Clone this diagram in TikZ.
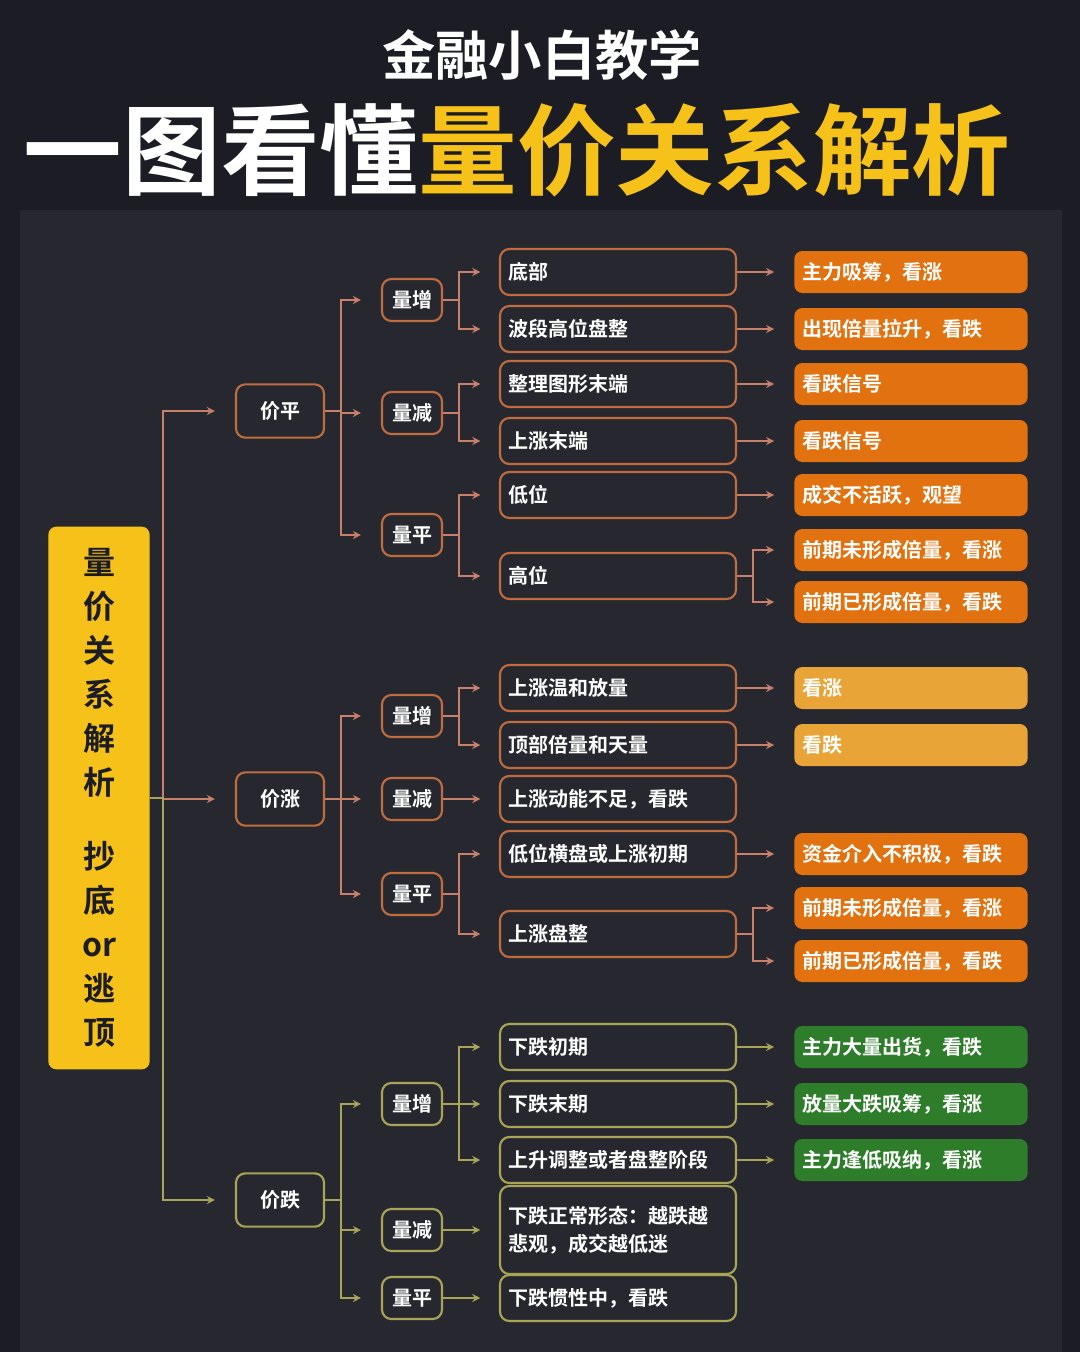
\documentclass[tikz,border=0pt]{standalone}
\usepackage{fontspec}
\setmainfont{Noto Sans CJK SC}[BoldFont={Noto Sans CJK SC Bold}]
\usetikzlibrary{arrows.meta,positioning}
\definecolor{bgdark}{HTML}{1B1C24}
\definecolor{panel}{HTML}{27282F}
\definecolor{gold}{HTML}{F6C21A}
\definecolor{rust}{HTML}{BE6C40}
\definecolor{rustln}{HTML}{C8806A}
\definecolor{khaki}{HTML}{A9A458}
\definecolor{resor}{HTML}{E2720F}
\definecolor{resyl}{HTML}{E9A437}
\definecolor{resgr}{HTML}{2E7D2A}
\begin{document}
\begin{tikzpicture}[x=0.75pt,y=-0.75pt,
    every node/.style={font=\bfseries},
    box/.style={draw=rust, line width=1.6pt, rounded corners=7pt, text=white, font=\bfseries\fontsize{15}{18}\selectfont},
    lvlone/.style={box, minimum width=66pt, minimum height=40pt},
    lvltwo/.style={box, minimum width=45pt, minimum height=31.5pt},
    leaf/.style={box, minimum width=177pt, minimum height=34.5pt, text width=165pt, align=left},
    res/.style={fill=resor, rounded corners=6pt, text=white, minimum width=175pt, minimum height=31.5pt, text width=163pt, align=left, font=\bfseries\fontsize{15}{18}\selectfont},
    conn/.style={draw=rustln, line width=1.3pt, -{Stealth[length=6pt,width=6pt]}},
    khk/.style={draw=khaki}]
  % background
  \fill[bgdark] (0,0) rectangle (1080,1352);
  \fill[panel] (20,210) rectangle (1062,1352);
  % title
  \node[text=white, font=\bfseries\fontsize{40}{44}\selectfont] (sub) at (542,55) {金融小白教学};
  \node[font=\bfseries\fontsize{74}{80}\selectfont, inner sep=0pt] (title) at (517,150)
    {\textcolor{white}{一图看懂}\textcolor{gold}{量价关系解析}};
  % root
  \node[fill=gold, rounded corners=6pt, minimum width=76pt, minimum height=407pt, text=bgdark,
        align=center, font=\bfseries\fontsize{24}{33}\selectfont] (qj) at (99,798)
    {量\\价\\关\\系\\解\\析\\[22pt]抄\\底\\or\\逃\\顶};

  % level one
  \node[lvlone] (pp) at (280,411) {价平};
  \node[lvlone] (pz) at (280,799) {价涨};
  \node[lvlone, khk] (pd) at (280,1200) {价跌};
  \foreach \n in {pp,pz}
    \draw[conn] (qj.east) -- ++(13,0) |- ([xshift=-15pt]\n.west);
  \draw[conn, khk] (qj.east) -- ++(13,0) |- ([xshift=-15pt]pd.west);

  % 价平
  \node[lvltwo] (pp_zz) at (412,300) {量增};
  \node[lvltwo] (pp_zj) at (412,413) {量减};
  \node[lvltwo] (pp_zp) at (412,535) {量平};
  \foreach \n in {pp_zz,pp_zj,pp_zp}
    \draw[conn] (pp.east) -- ++(16,0) |- ([xshift=-15pt]\n.west);
  \node[leaf] (pp_1) at (618,272) {底部};
  \node[leaf] (pp_2) at (618,329) {波段高位盘整};
  \node[leaf] (pp_3) at (618,384) {整理图形末端};
  \node[leaf] (pp_4) at (618,441) {上涨末端};
  \node[leaf] (pp_5) at (618,495) {低位};
  \node[leaf] (pp_6) at (618,576) {高位};
  \foreach \a/\b in {pp_zz/pp_1,pp_zz/pp_2,pp_zj/pp_3,pp_zj/pp_4,pp_zp/pp_5,pp_zp/pp_6}
    \draw[conn] (\a.east) -- ++(16,0) |- ([xshift=-14pt]\b.west);
  \node[res] (pp_r1) at (911,272) {主力吸筹，看涨};
  \node[res] (pp_r2) at (911,329) {出现倍量拉升，看跌};
  \node[res] (pp_r3) at (911,384) {看跌信号};
  \node[res] (pp_r4) at (911,441) {看跌信号};
  \node[res] (pp_r5) at (911,495) {成交不活跃，观望};
  \node[res] (pp_r6) at (911,550) {前期未形成倍量，看涨};
  \node[res] (pp_r7) at (911,602) {前期已形成倍量，看跌};
  \foreach \i in {1,...,5}
    \draw[conn] (pp_\i.east) -- ([xshift=-15pt]pp_r\i.west);
  \foreach \i in {6,7}
    \draw[conn] (pp_6.east) -- ++(16,0) |- ([xshift=-15pt]pp_r\i.west);

  % 价涨
  \node[lvltwo] (pz_zz) at (412,716) {量增};
  \node[lvltwo] (pz_zj) at (412,799) {量减};
  \node[lvltwo] (pz_zp) at (412,894) {量平};
  \foreach \n in {pz_zz,pz_zj,pz_zp}
    \draw[conn] (pz.east) -- ++(16,0) |- ([xshift=-15pt]\n.west);
  \node[leaf] (pz_1) at (618,688) {上涨温和放量};
  \node[leaf] (pz_2) at (618,745) {顶部倍量和天量};
  \node[leaf] (pz_3) at (618,799) {上涨动能不足，看跌};
  \node[leaf] (pz_4) at (618,854) {低位横盘或上涨初期};
  \node[leaf] (pz_5) at (618,934) {上涨盘整};
  \foreach \a/\b in {pz_zz/pz_1,pz_zz/pz_2,pz_zj/pz_3,pz_zp/pz_4,pz_zp/pz_5}
    \draw[conn] (\a.east) -- ++(16,0) |- ([xshift=-14pt]\b.west);
  \node[res, fill=resyl] (pz_r1) at (911,688) {看涨};
  \node[res, fill=resyl] (pz_r2) at (911,745) {看跌};
  \node[res] (pz_r4) at (911,854) {资金介入不积极，看跌};
  \node[res] (pz_r5) at (911,908) {前期未形成倍量，看涨};
  \node[res] (pz_r6) at (911,961) {前期已形成倍量，看跌};
  \foreach \i in {1,2,4}
    \draw[conn] (pz_\i.east) -- ([xshift=-15pt]pz_r\i.west);
  \foreach \i in {5,6}
    \draw[conn] (pz_5.east) -- ++(16,0) |- ([xshift=-15pt]pz_r\i.west);

  % 价跌
  \node[lvltwo, khk] (pd_zz) at (412,1104) {量增};
  \node[lvltwo, khk] (pd_zj) at (412,1230) {量减};
  \node[lvltwo, khk] (pd_zp) at (412,1298) {量平};
  \foreach \n in {pd_zz,pd_zj,pd_zp}
    \draw[conn, khk] (pd.east) -- ++(16,0) |- ([xshift=-15pt]\n.west);
  \node[leaf, khk] (pd_1) at (618,1047) {下跌初期};
  \node[leaf, khk] (pd_2) at (618,1104) {下跌末期};
  \node[leaf, khk] (pd_3) at (618,1160) {上升调整或者盘整阶段};
  \node[leaf, khk, minimum height=66pt, font=\bfseries\fontsize{15}{21}\selectfont] (pd_4) at (618,1230)
    {下跌正常形态：越跌越\\悲观，成交越低迷};
  \node[leaf, khk] (pd_5) at (618,1298) {下跌惯性中，看跌};
  \foreach \a/\b in {pd_zz/pd_1,pd_zz/pd_2,pd_zz/pd_3,pd_zj/pd_4,pd_zp/pd_5}
    \draw[conn, khk] (\a.east) -- ++(16,0) |- ([xshift=-14pt]\b.west);
  \node[res, fill=resgr] (pd_r1) at (911,1047) {主力大量出货，看跌};
  \node[res, fill=resgr] (pd_r2) at (911,1104) {放量大跌吸筹，看涨};
  \node[res, fill=resgr] (pd_r3) at (911,1160) {主力逢低吸纳，看涨};
  \foreach \i in {1,2,3}
    \draw[conn, khk] (pd_\i.east) -- ([xshift=-15pt]pd_r\i.west);
\end{tikzpicture}
\end{document}
